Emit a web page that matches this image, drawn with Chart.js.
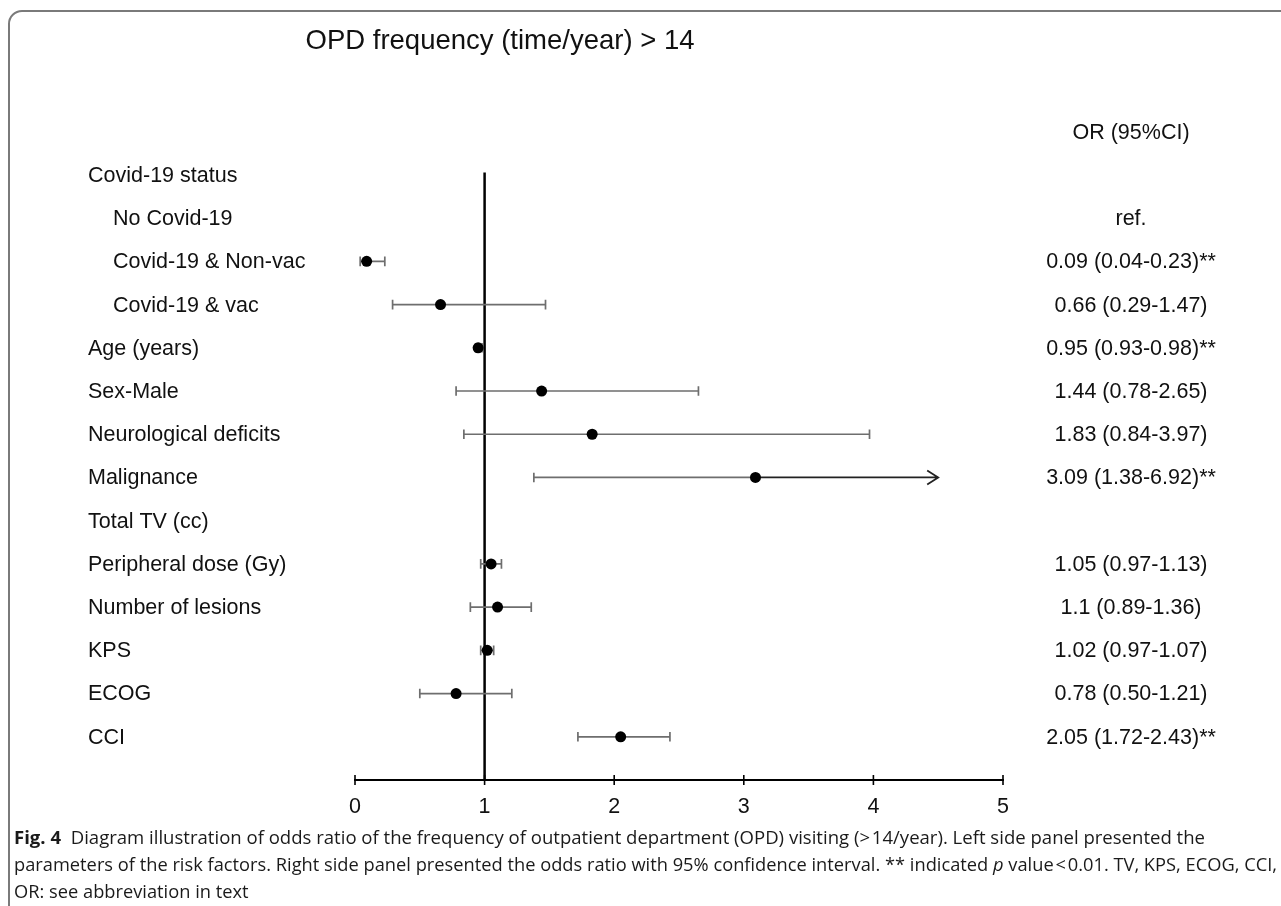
<!DOCTYPE html>
<html>
<head>
<meta charset="utf-8">
<script src="https://cdn.jsdelivr.net/npm/chart.js@4.4.0/dist/chart.umd.min.js"></script>
<style>
html,body{margin:0;padding:0;background:#fff;}
#wrap{position:relative;width:1281px;height:906px;overflow:hidden;background:#fff;}
#frame{position:absolute;left:8px;top:10px;width:1400px;height:1100px;border:2px solid #7a7a7a;border-radius:14px;box-sizing:border-box;}
#c{position:absolute;left:0;top:0;width:1281px;height:906px;}
.cap{position:absolute;left:14px;white-space:nowrap;font-family:"Open Sans","Noto Sans",sans-serif;font-size:18.5px;color:#1a1a1a;transform-origin:0 50%;line-height:1;}
</style>
</head>
<body>
<div id="wrap">
  <div id="frame"></div>
  <canvas id="c" width="1281" height="906"></canvas>
  <div class="cap" id="cap1" style="top:828px"><b>Fig. 4</b>&nbsp; Diagram illustration of odds ratio of the frequency of outpatient department (OPD) visiting (&gt;&#8202;14/year). Left side panel presented the</div>
  <div class="cap" id="cap2" style="top:855px">parameters of the risk factors. Right side panel presented the odds ratio with 95% confidence interval. ** indicated <i>p</i> value&#8202;&lt;&#8202;0.01. TV, KPS, ECOG, CCI,</div>
  <div class="cap" id="cap3" style="top:882px">OR: see abbreviation in text</div>
</div>
<script>
// ---- data ----
const chartTitle = "OPD frequency (time/year) > 14";
const rightHeader = "OR (95%CI)";
const rowLabels = ["Covid-19 status","No Covid-19","Covid-19 & Non-vac","Covid-19 & vac","Age (years)","Sex-Male","Neurological deficits","Malignance","Total TV (cc)","Peripheral dose (Gy)","Number of lesions","KPS","ECOG","CCI"];
const rowIndent = [0,1,1,1,0,0,0,0,0,0,0,0,0,0];
const orValues = [null,null,0.09,0.66,0.95,1.44,1.83,3.09,null,1.05,1.1,1.02,0.78,2.05];
const ciLower  = [null,null,0.04,0.29,0.93,0.78,0.84,1.38,null,0.97,0.89,0.97,0.50,1.72];
const ciUpper  = [null,null,0.23,1.47,0.98,2.65,3.97,6.92,null,1.13,1.36,1.07,1.21,2.43];
const orTexts  = ["","ref.","0.09 (0.04-0.23)**","0.66 (0.29-1.47)","0.95 (0.93-0.98)**","1.44 (0.78-2.65)","1.83 (0.84-3.97)","3.09 (1.38-6.92)**","","1.05 (0.97-1.13)","1.1 (0.89-1.36)","1.02 (0.97-1.07)","0.78 (0.50-1.21)","2.05 (1.72-2.43)**"];
const xTicks = [0,1,2,3,4,5];
const refValue = 1;
const xClip = 4.5;

// ---- layout / style ----
const FONT = '"Liberation Sans", Arial, sans-serif';
const LABEL_SIZE = 21.5;

const points = [];
orValues.forEach((v,i)=>{ if(v!==null) points.push({x:v,y:i}); });

const forest = {
  id:'forest',
  beforeDatasetsDraw(chart){
    const {ctx, scales:{x,y}, chartArea} = chart;
    ctx.save();
    const rx = x.getPixelForValue(refValue);
    ctx.strokeStyle = '#000'; ctx.lineWidth = 2.5;
    ctx.beginPath(); ctx.moveTo(rx, y.getPixelForValue(0)-2.5); ctx.lineTo(rx, chartArea.bottom); ctx.stroke();
    const cap = 4.8;
    ciLower.forEach((lo,i)=>{
      if(lo===null) return;
      const hi = ciUpper[i];
      const py = y.getPixelForValue(i);
      const xl = x.getPixelForValue(lo);
      const xp = x.getPixelForValue(orValues[i]);
      const clipped = hi > xClip;
      const xu = x.getPixelForValue(Math.min(hi,xClip));
      ctx.strokeStyle = '#6e6e6e'; ctx.lineWidth = 1.7;
      ctx.beginPath();
      if(clipped){ ctx.moveTo(xl,py); ctx.lineTo(xp,py); }
      else { ctx.moveTo(xl,py); ctx.lineTo(xu,py); }
      ctx.moveTo(xl,py-cap); ctx.lineTo(xl,py+cap);
      if(!clipped){ ctx.moveTo(xu,py-cap); ctx.lineTo(xu,py+cap); }
      ctx.stroke();
      if(clipped){
        ctx.strokeStyle = '#222'; ctx.lineWidth = 1.8;
        ctx.beginPath(); ctx.moveTo(xp,py); ctx.lineTo(xu,py);
        ctx.moveTo(xu-11,py-7); ctx.lineTo(xu,py); ctx.lineTo(xu-11,py+7);
        ctx.stroke();
      }
    });
    ctx.restore();
  },
  afterDraw(chart){
    const {ctx, scales:{x,y}, chartArea} = chart;
    ctx.save();
    ctx.strokeStyle = '#000'; ctx.lineWidth = 1.6;
    ctx.beginPath();
    xTicks.forEach(t=>{ const px = x.getPixelForValue(t); ctx.moveTo(px, chartArea.bottom-5); ctx.lineTo(px, chartArea.bottom+5); });
    ctx.stroke();
    ctx.fillStyle = '#111';
    ctx.textBaseline = 'middle';
    ctx.textAlign = 'center';
    ctx.font = '27.5px ' + FONT;
    ctx.fillText(chartTitle, 500, 41);
    ctx.font = LABEL_SIZE + 'px ' + FONT;
    ctx.textAlign = 'left';
    rowLabels.forEach((s,i)=>{
      ctx.fillText(s, rowIndent[i] ? 113 : 88, y.getPixelForValue(i)+1);
    });
    ctx.textAlign = 'center';
    ctx.fillText(rightHeader, 1131, y.getPixelForValue(-1)+1);
    orTexts.forEach((s,i)=>{ if(s) ctx.fillText(s, 1131, y.getPixelForValue(i)+1); });
    ctx.restore();
  }
};

new Chart(document.getElementById('c'), {
  type:'scatter',
  data:{ datasets:[{ data:points, pointRadius:5.5, pointHoverRadius:5.5, backgroundColor:'#000', borderColor:'#000', pointBorderWidth:0 }] },
  options:{
    responsive:false, animation:false,
    layout:{ padding:{ left:355, right:278, top:131.7, bottom:86 } },
    plugins:{ legend:{display:false}, tooltip:{enabled:false}, title:{display:false} },
    scales:{
      x:{ type:'linear', min:0, max:5,
          afterBuildTicks:(s)=>{ s.ticks = xTicks.map(v=>({value:v})); },
          afterFit:(s)=>{ s.height = 40; },
          grid:{ drawOnChartArea:false, drawTicks:false },
          border:{ display:true, color:'#000', width:2 },
          ticks:{ padding:14, color:'#111', font:{ family:FONT, size:LABEL_SIZE } } },
      y:{ type:'linear', min:-1, max:14, reverse:true, display:false }
    }
  },
  plugins:[forest]
});

// fit caption lines to the reference widths
(function(){
  const targets = {cap1:1191, cap2:1263};
  const c2 = document.getElementById('cap2');
  const k2 = targets.cap2 / c2.getBoundingClientRect().width;
  ['cap1','cap2'].forEach(id=>{
    const el = document.getElementById(id);
    const k = targets[id] / el.getBoundingClientRect().width;
    el.style.transform = 'scaleX(' + k + ')';
  });
  document.getElementById('cap3').style.transform = 'scaleX(' + k2 + ')';
})();
</script>
</body>
</html>
